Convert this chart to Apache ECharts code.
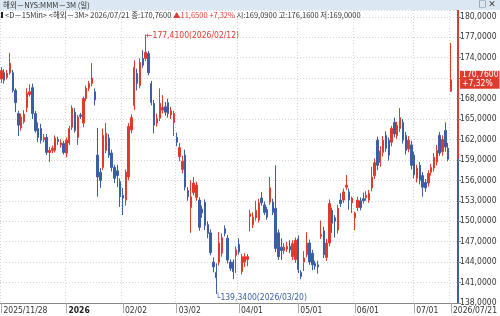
<!DOCTYPE html>
<html>
<head>
<meta charset="utf-8">
<script src="https://cdn.jsdelivr.net/npm/echarts@6/dist/echarts.min.js"></script>
<style>
html, body { margin: 0; padding: 0; background: #fff; }
#chart { width: 500px; height: 316px; }
</style>
</head>
<body>
<div id="chart"></div>
<script>
// trading days, by month
var tradeDays = {
	'2025/11': [28],
	'2025/12': [1,2,3,4,5,8,9,10,11,12,15,16,17,18,19,22,23,24,26,29,30,31],
	'2026/01': [2,5,6,7,8,9,12,13,14,15,16,20,21,22,23,26,27,28,29,30],
	'2026/02': [2,3,4,5,6,9,10,11,12,13,17,18,19,20,23,24,25,26,27],
	'2026/03': [2,3,4,5,6,9,10,11,12,13,16,17,18,19,20,23,24,25,26,27,30,31],
	'2026/04': [1,2,6,7,8,9,10,13,14,15,16,17,20,21,22,23,24,27,28,29,30],
	'2026/05': [1,4,5,6,7,8,11,12,13,14,15,18,19,20,21,22,26,27,28,29],
	'2026/06': [1,2,3,4,5,8,9,10,11,12,15,16,17,18,22,23,24,25,26,29,30],
	'2026/07': [1,2,6,7,8,9,10,13,14,15,16,17,20,21]
};

var opens = [
	170.9,171.8,171.1,171.8,171.8,169.2,165.8,163.7,164.6,166.7,
	168.6,169.6,165.8,163.6,163.6,162.0,162.3,160.1,160.4,160.4,
	162.0,161.2,161.4,160.0,161.5,163.8,166.0,162.3,165.6,164.4,
	168.0,169.5,170.2,169.0,159.7,157.2,157.9,160.4,162.2,160.0,
	157.9,157.4,155.8,153.8,153.1,156.5,163.4,167.0,171.7,169.9,
	173.9,173.9,174.6,170.2,167.3,164.4,165.1,166.3,166.8,167.4,
	165.6,164.5,162.3,159.5,157.6,159.7,154.5,152.0,154.2,153.5,
	153.1,151.8,152.8,149.5,148.3,144.0,142.5,144.0,145.3,148.9,
	147.5,144.0,144.0,145.0,146.6,142.6,144.0,144.4,150.7,149.5,
	150.5,150.2,153.4,152.4,151.7,152.8,152.8,151.9,148.3,146.2,
	145.7,145.9,146.3,144.8,144.4,147.4,142.5,144.0,145.1,146.8,
	145.3,143.8,143.6,147.8,148.6,144.7,146.8,151.6,150.5,148.7,
	153.1,153.1,155.0,154.3,152.7,150.5,152.0,153.0,153.3,153.5,
	153.1,154.9,156.7,161.9,158.6,160.1,162.6,161.9,161.6,164.5,
	162.6,163.6,164.5,162.6,160.6,161.2,159.7,156.3,158.2,156.7,
	155.7,155.6,157.2,157.8,158.7,162.6,160.2,163.3,160.7,169.09
];
var closes = [
	172.1,170.7,171.7,173.2,169.2,167.4,164.1,165.3,165.7,168.8,
	169.0,165.8,163.3,162.3,161.9,162.3,160.1,160.4,160.7,162.2,
	161.7,161.5,160.1,161.9,163.6,166.6,163.3,165.3,165.4,168.0,
	169.5,170.2,171.0,167.8,156.5,156.0,162.6,162.9,159.7,157.9,
	156.3,156.7,153.6,153.4,157.2,163.9,165.2,172.6,170.2,173.3,
	172.9,174.8,171.8,167.4,164.1,165.1,167.3,166.7,166.0,165.8,
	166.2,165.8,161.6,160.8,158.8,155.0,153.6,153.6,155.6,155.3,
	149.1,151.2,149.4,148.2,145.4,143.3,141.7,146.8,147.6,148.2,
	144.3,143.1,142.6,145.8,145.5,144.8,144.8,144.8,151.1,150.6,
	151.6,152.7,152.7,151.3,150.6,154.9,151.3,146.0,144.8,145.7,
	146.2,146.3,145.8,146.7,147.2,142.9,141.9,144.6,146.8,144.0,
	143.6,143.4,143.3,148.1,145.1,146.8,152.6,149.7,150.0,151.9,
	152.6,154.3,155.3,153.1,153.4,151.2,153.1,152.0,153.0,153.8,
	154.1,156.5,158.6,158.2,160.3,161.9,160.7,159.7,163.6,162.8,
	164.1,165.2,161.9,160.4,161.9,158.2,156.8,157.8,156.0,155.0,
	154.9,157.0,157.9,159.4,160.4,160.0,162.0,160.9,159.11,170.76
];
var lows = [
	170.3,170.2,170.8,171.5,168.9,166.0,162.5,163.3,164.3,166.0,
	168.3,165.0,163.0,161.6,161.4,161.6,159.7,158.7,160.0,160.1,
	161.2,160.8,159.8,159.4,161.2,163.4,163.0,161.2,165.0,163.8,
	167.6,169.1,169.8,167.0,153.6,154.9,157.5,160.0,159.3,157.3,
	155.6,155.0,152.1,150.9,152.3,156.0,162.9,166.3,169.2,169.5,
	172.5,173.5,171.4,167.0,162.9,163.9,164.7,165.8,165.5,165.2,
	165.0,162.5,161.0,158.8,157.0,154.5,153.0,148.3,153.8,153.0,
	148.6,150.5,148.7,147.5,145.0,142.5,139.34,143.5,144.8,147.8,
	143.8,142.7,141.5,142.4,145.1,142.2,143.3,143.4,148.5,149.0,
	150.1,149.8,152.3,150.9,150.2,152.4,150.9,145.5,144.3,144.3,
	145.2,145.5,145.3,144.3,143.9,142.4,141.5,142.7,144.7,143.6,
	142.8,142.9,142.3,147.4,144.6,144.2,146.3,148.3,147.6,148.2,
	152.1,152.7,154.6,151.7,151.2,148.7,151.5,151.6,152.6,153.0,
	152.7,154.4,156.2,157.5,158.0,159.5,160.2,158.9,161.0,162.3,
	162.1,163.1,161.4,159.8,160.1,157.6,156.3,155.7,155.4,153.6,
	154.3,155.1,156.7,157.3,158.2,159.6,159.6,160.2,158.8,169.0
];
var highs = [
	172.6,172.3,172.2,174.7,172.2,169.5,166.2,165.8,166.3,169.5,
	170.1,170.2,166.2,164.5,164.3,162.8,162.8,160.9,161.1,162.6,
	162.4,162.0,161.8,162.3,164.0,167.0,166.6,165.6,165.9,168.3,
	169.9,170.6,173.2,169.5,163.7,157.8,163.6,164.4,162.8,160.5,
	158.3,158.3,156.3,154.9,157.6,164.4,165.7,173.6,172.4,173.9,
	175.1,177.41,175.0,170.6,167.8,165.8,169.5,168.5,167.5,168.0,
	166.8,166.2,163.0,161.5,159.6,160.5,155.0,156.0,156.5,155.8,
	153.5,152.3,153.2,150.0,148.8,144.7,143.8,148.4,148.2,149.4,
	148.0,144.4,144.4,146.3,147.5,145.2,145.3,145.2,151.7,151.3,
	153.0,153.3,154.3,152.9,152.1,156.5,153.3,158.2,148.8,147.5,
	146.8,147.0,147.2,147.2,147.6,147.9,142.8,145.6,148.4,147.3,
	145.8,144.2,144.2,150.1,149.2,147.4,153.2,152.0,150.9,152.4,
	154.1,154.8,156.8,154.8,153.6,151.4,153.6,153.5,154.2,154.4,
	154.6,158.0,159.2,162.4,161.0,162.5,163.2,162.3,164.0,165.2,
	164.6,166.6,165.0,163.1,162.5,161.8,160.2,158.3,158.7,157.2,
	156.2,157.5,158.4,160.0,161.2,163.1,162.6,164.5,161.5,176.16
];

// x axis labels (category -> label)
var tickLabels = {
	'2025/11/28': '2025/11/28',
	'2026/01/02': '2026',
	'2026/02/02': '02/02',
	'2026/03/02': '03/02',
	'2026/04/01': '04/01',
	'2026/05/01': '05/01',
	'2026/06/01': '06/01',
	'2026/07/01': '07/01',
	'2026/07/21': '2026/07/21'
};

var lastClose = 170.76;
var prevClose = 159.11;
var highMark = { date: '2026/02/12', value: 177.41 };
var lowMark = { date: '2026/03/20', value: 139.34 };

var RED = '#de3b2f';
var BLUE = '#3c5ea6';
var NUM_FONT = '"Liberation Sans Narrow", "DejaVu Sans Condensed", "Liberation Sans", sans-serif';
var KR_FONT = '"Noto Sans CJK KR", sans-serif';

function fmt(v) { return v.toFixed(4).replace('.', ','); }

var dates = [];
Object.keys(tradeDays).forEach(function (m) {
	tradeDays[m].forEach(function (d) {
		dates.push(m + '/' + (d < 10 ? '0' + d : d));
	});
});
var cats = dates.concat(['', ' ']);

var candles = [];
for (var i = 0; i < dates.length; i++) {
	candles.push([opens[i], closes[i], lows[i], highs[i]]);
}

function isTick(idx, val) { return tickLabels.hasOwnProperty(val); }

var yMin = 138, yMax = 181;
var split = (yMax - prevClose) / (yMax - yMin);

var myChart = echarts.init(document.getElementById('chart'));
myChart.setOption({
	animation: false,
	backgroundColor: '#fff',
	grid: { left: 0, right: 32, top: 10, bottom: 13 },
	xAxis: {
		type: 'category',
		data: cats,
		boundaryGap: true,
		axisLine: { lineStyle: { color: '#888', width: 1 } },
		axisTick: { show: true, interval: isTick, alignWithLabel: true, length: 10, lineStyle: { color: '#aaa' } },
		axisLabel: {
			interval: isTick,
			align: 'left',
			margin: 3,
			padding: [0, 0, 0, 2],
			fontSize: 8.5,
			fontFamily: NUM_FONT,
			color: '#333',
			formatter: function (v) {
				if (v === '2026/01/02') return '{b|2026}';
				return tickLabels[v] || '';
			},
			rich: { b: { fontWeight: 'bold', fontSize: 8.5, fontFamily: NUM_FONT, color: '#222' } }
		},
		splitLine: { show: true, interval: isTick, lineStyle: { color: '#d4d4d4', type: [1, 2] } }
	},
	yAxis: {
		type: 'value',
		position: 'right',
		min: yMin,
		max: yMax,
		interval: 3,
		scale: true,
		axisLine: {
			show: true,
			lineStyle: {
				width: 2,
				color: new echarts.graphic.LinearGradient(0, 0, 0, 1, [
					{ offset: 0, color: RED },
					{ offset: split, color: RED },
					{ offset: split, color: BLUE },
					{ offset: 1, color: BLUE }
				])
			}
		},
		axisTick: { show: true, inside: false, length: 3, lineStyle: { color: '#888' } },
		axisLabel: {
			showMaxLabel: false,
			margin: 2,
			fontSize: 8.5,
			fontFamily: NUM_FONT,
			color: '#333',
			formatter: fmt
		},
		splitLine: { lineStyle: { color: '#d4d4d4', type: [1, 2] } }
	},
	series: [{
		type: 'candlestick',
		data: candles,
		barWidth: 1.9,
		itemStyle: {
			color: RED,
			color0: BLUE,
			borderColor: RED,
			borderColor0: BLUE,
			borderWidth: 1
		},
		markPoint: {
			symbol: 'rect',
			symbolSize: 1,
			itemStyle: { color: 'rgba(0,0,0,0)' },
			data: [
				{
					coord: [highMark.date, highMark.value],
					label: {
						show: true, position: 'right', distance: 0, offset: [0, 1],
						formatter: '←' + fmt(highMark.value) + '(' + highMark.date + ')',
						color: RED, fontSize: 8.5, fontFamily: NUM_FONT
					}
				},
				{
					coord: [lowMark.date, lowMark.value],
					label: {
						show: true, position: 'right', distance: 0, offset: [-1, 4],
						formatter: '└' + fmt(lowMark.value) + '(' + lowMark.date + ')',
						color: BLUE, fontSize: 8.5, fontFamily: NUM_FONT
					}
				}
			]
		},
		markLine: {
			silent: true,
			symbol: 'none',
			lineStyle: { width: 0, color: 'rgba(0,0,0,0)' },
			data: [{ yAxis: lastClose }],
			label: {
				show: true,
				position: 'end',
				distance: 2,
				formatter: fmt(lastClose) + '\n+' + '7,32%',
				backgroundColor: RED,
				color: '#fff',
				fontSize: 8.5,
				lineHeight: 9,
				padding: [0, 1, 0, 2],
				fontFamily: NUM_FONT
			}
		}
	}],
	graphic: [
		{ type: 'rect', left: 0, top: 0, shape: { width: 500, height: 10 }, style: { fill: '#dbe7f2' }, z: 100 },
		{ type: 'text', left: 3, top: 1, style: { text: '해외－NYS:MMM－3M (일)', font: '7.5px ' + KR_FONT, fill: '#333' }, z: 101 },
		{ type: 'text', right: 4, top: 0, style: { text: '□ ×', font: 'bold 8px ' + KR_FONT, fill: '#333' }, z: 101 },
		{ type: 'rect', left: 1, top: 12, shape: { width: 2, height: 6 }, style: { fill: '#222' }, z: 101 },
		{
			type: 'text', left: 5, top: 11, z: 101,
			style: {
				text: '{k|<D－15Min> <해외－3M> 2026/07/21 종:170,7600 }{r|▲11,6500 +7,32%}{k| 시:169,0900 고:176,1600 저:169,0000}',
				rich: {
					k: { fontSize: 7.5, fontFamily: KR_FONT, fill: '#333' },
					r: { fontSize: 7.5, fontFamily: KR_FONT, fill: RED }
				}
			}
		}
	]
});
</script>
</body>
</html>
